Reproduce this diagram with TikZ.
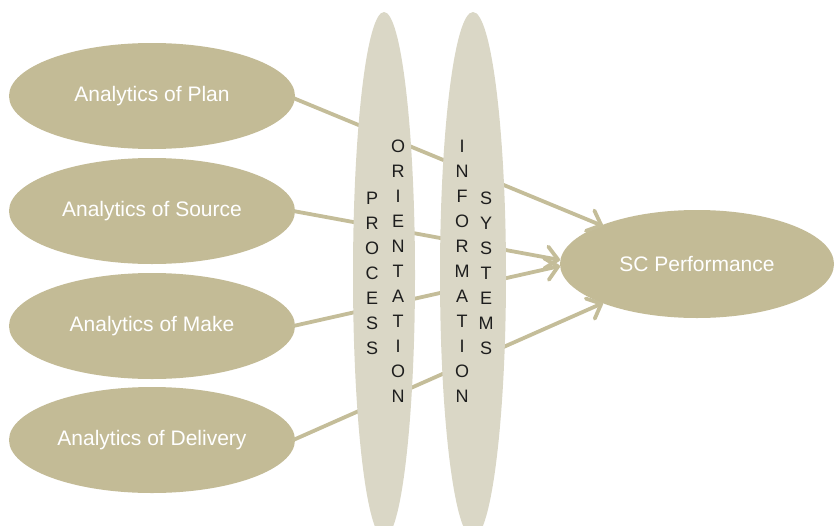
\documentclass[tikz,border=0pt]{standalone}
\usepackage{fontspec}
\setmainfont{Liberation Sans}
\usetikzlibrary{shapes.geometric,arrows.meta}
\definecolor{olivefill}{RGB}{195,187,150}
\definecolor{palefill}{RGB}{218,215,198}
\definecolor{linecol}{RGB}{196,189,153}
\definecolor{lettercol}{RGB}{30,30,30}
\tikzset{
  srcbox/.style={ellipse, fill=olivefill, minimum width=286pt, minimum height=106pt, inner sep=0pt, text=white, font=\fontsize{21}{24}\selectfont},
  tallbox/.style={ellipse, fill=palefill, inner sep=0pt},
  conn/.style={draw=linecol, line width=3.8pt, line cap=round},
  arr/.style={conn, -{Straight Barb[length=12pt,width=22pt,line width=3.8pt, round]}},
  letters/.style={font=\fontsize{18}{25}\selectfont, text=lettercol, align=center, inner sep=0pt, anchor=north}
}
\begin{document}
\begin{tikzpicture}[x=1pt,y=-1pt]
\useasboundingbox (0,0) rectangle (835,525);
\begin{scope}
\clip (0,0) rectangle (835,525);
% source ellipses
\node[srcbox] (plan) at (152,96) {\raisebox{-2pt}{Analytics of Plan}};
\node[srcbox] (source) at (152,211) {\raisebox{-2pt}{Analytics of Source}};
\node[srcbox] (make) at (152,326) {\raisebox{-2pt}{Analytics of Make}};
\node[srcbox] (deliv) at (152,440) {\raisebox{-2pt}{Analytics of Delivery}};
\node[srcbox, minimum width=274pt, minimum height=108pt] (perf) at (697,264) {\raisebox{-2pt}{SC Performance}};
% connectors (behind the tall ellipses)
\coordinate (tplan) at (603,226);
\coordinate (tsrc) at (560,260);
\coordinate (tmake) at (560,266);
\coordinate (tdel) at (603,303);
\draw[arr] (plan.east) ++(-2,2) coordinate (splan) -- (tplan);
\draw[arr] (source.east) ++(-2,0) coordinate (ssrc) -- (tsrc);
\draw[arr] (make.east) ++(-2,0) coordinate (smake) -- (tmake);
\draw[arr] (deliv.east) ++(-2,0) coordinate (sdel) -- (tdel);
% tall ellipses
\node[tallbox, minimum width=62pt, minimum height=526pt] (proc) at (384,275) {};
\node[tallbox, minimum width=66pt, minimum height=526pt] (info) at (473,275) {};
\end{scope}
% letters
\node[letters] (pr) at (372,192) {P\\R\\O\\C\\E\\S\\S};
\node[letters] (or) at (398,140) {O\\R\\I\\E\\N\\T\\A\\T\\I\\O\\N};
\node[letters] (in) at (462,140) {I\\N\\F\\O\\R\\M\\A\\T\\I\\O\\N};
\node[letters] (sy) at (486,192) {S\\Y\\S\\T\\E\\M\\S};
\end{tikzpicture}
\end{document}
